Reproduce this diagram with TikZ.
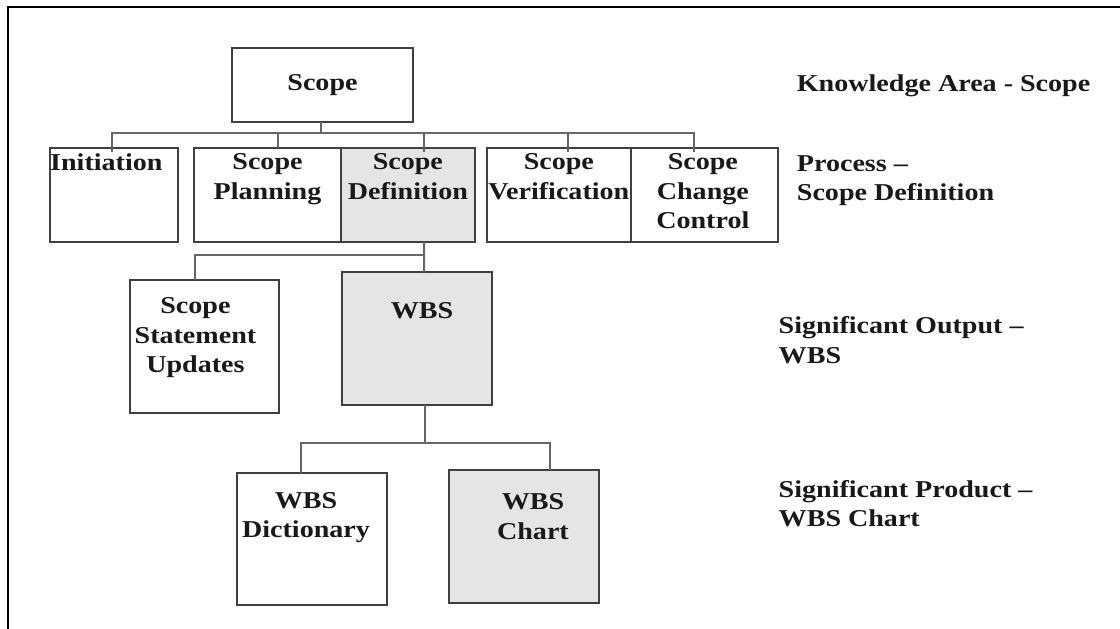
\documentclass[tikz,border=0pt]{standalone}
\usepackage{fontspec}
\setmainfont{Liberation Serif}[FakeStretch=1.16]
\usetikzlibrary{positioning}
\begin{document}
\begin{tikzpicture}[x=1pt, y=-1pt, font=\fontsize{24.2}{29.3}\selectfont\bfseries]

		% Define styles
		\tikzstyle{box} = [rectangle, draw=black!75, line width=2pt, anchor=north west, inner sep=0pt, outer sep=0pt, text=black!90]
		\tikzstyle{shaded} = [box, fill=black!10]
		\tikzstyle{txt} = [inner sep=0pt, align=center, text=black!90]
		\tikzstyle{side} = [inner sep=0pt, align=left, text=black!90]
		\tikzstyle{link} = [draw=black!60, line width=2pt]

		\useasboundingbox (0,0) rectangle (1120,629);

		% Frame
		\draw[line width=2.5pt] (8,629) -- (8,7) -- (1120,7);

		% Nodes
		\node[box, minimum width=180.4pt, minimum height=74.6pt] (scope) at (232.3,47.7) {Scope};

		\node[box, minimum width=127.7pt, minimum height=94pt] (init) at (50,147.7) {};
		\node[box, minimum width=146.4pt, minimum height=94pt] (plan) at (194.3,147.7) {};
		\node[shaded, minimum width=134.3pt, minimum height=94pt] (defn) at (340.7,147.7) {};
		\node[box, minimum width=144.3pt, minimum height=94pt] (verif) at (486.7,147.7) {};
		\node[box, minimum width=146.7pt, minimum height=94pt] (change) at (631,147.7) {};

		\node[box, minimum width=149.3pt, minimum height=132.7pt] (ssu) at (130,280) {};
		\node[shaded, minimum width=150pt, minimum height=132.7pt] (wbs) at (342.3,272.3) {};

		\node[box, minimum width=149.4pt, minimum height=132.3pt] (dict) at (237.3,472.7) {};
		\node[shaded, minimum width=150.3pt, minimum height=133.3pt] (chart) at (449,470) {};

		% Box texts
		\node[txt, below right=5.8pt and 0pt of init.north west] (init-t) {Initiation};
		\node[txt, below=5.8pt of plan.north] (plan-t) {Scope\\Planning};
		\node[txt, below=5.8pt of defn.north] (defn-t) {Scope\\Definition};
		\node[txt, below=5.8pt of verif.north] (verif-t) {Scope\\Verification};
		\node[txt, below=5.8pt of change.north, xshift=-1.5pt] (change-t) {Scope\\Change\\Control};
		\node[txt, below=17.5pt of ssu.north, xshift=-9.2pt] (ssu-t) {Scope\\Statement\\Updates};
		\node[txt, below=29.5pt of wbs.north, xshift=4.7pt] (wbs-t) {WBS};
		\node[txt, below=19.1pt of dict.north, xshift=-6pt] (dict-t) {WBS\\Dictionary};
		\node[txt, below=23.5pt of chart.north, xshift=8.8pt] (chart-t) {WBS\\Chart};

		% Levels
		\node[side, anchor=base west] (ka) at (796.7,91) {Knowledge Area - Scope};
		\node[side, anchor=north west] (proc) at (796.7,155.5) {Process –\\Scope Definition};
		\node[side, anchor=north west] (out) at (778.5,316.6) {Significant Output –\\WBS};
		\node[side, anchor=north west] (prod) at (778.5,480) {Significant Product –\\WBS Chart};

		% Connectors
		\coordinate (bus1) at (321,133.3);
		\coordinate (bus2) at (424,255);
		\coordinate (bus3) at (425,443.3);

		\draw[link] ([xshift=-1.5pt]scope.south) -- (bus1);
		\draw[link] (bus1) -| ([xshift=-1.5pt, yshift=-4pt]init.north);
		\draw[link] (bus1) -| ([xshift=10.8pt]plan.north);
		\draw[link] (bus1) -| ([xshift=16.2pt, yshift=-4pt]defn.north);
		\draw[link] (bus1) -| ([xshift=9.5pt, yshift=-4pt]verif.north);
		\draw[link] (bus1) -| ([xshift=-10pt, yshift=-4pt]change.north);

		\draw[link] ([xshift=16.2pt]defn.south) -- ([xshift=6.7pt]wbs.north);
		\draw[link] (bus2) -| ([xshift=-9.7pt]ssu.north);

		\draw[link] ([xshift=7.7pt]wbs.south) -- (bus3);
		\draw[link] (bus3) -| ([xshift=-11.3pt]dict.north);
		\draw[link] (bus3) -| ([xshift=25.8pt]chart.north);

	\end{tikzpicture}
\end{document}
